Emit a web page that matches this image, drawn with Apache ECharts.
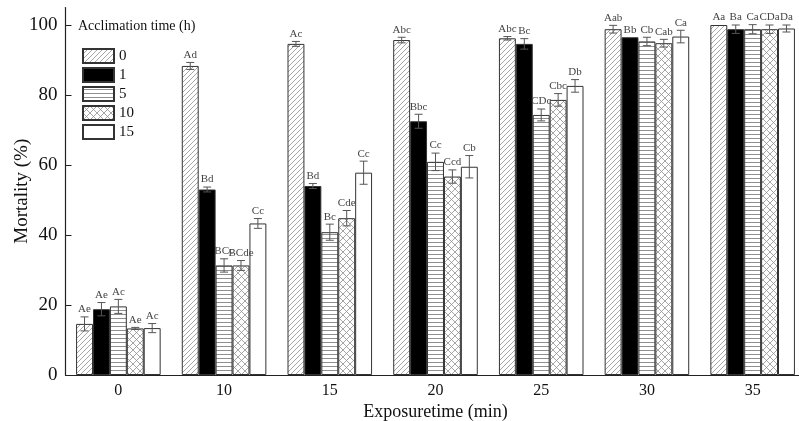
<!DOCTYPE html>
<html>
<head>
<meta charset="utf-8">
<script src="https://cdn.jsdelivr.net/npm/echarts@6/dist/echarts.min.js"></script>
<style>
html,body{margin:0;padding:0;background:#fff;}
#chart{width:799px;height:421px;}
</style>
</head>
<body>
<div id="chart"></div>
<script>
// ---- data ----
var categories = ['0', '10', '15', '20', '25', '30', '35'];
var seriesNames = ['0', '1', '5', '10', '15'];
var yTicks = [0, 20, 40, 60, 80, 100];

var mort_h0  = [14.6, 88.3, 94.6, 95.7, 96.2, 98.8, 100.0];
var err_h0   = [2.0, 1.0, 0.7, 0.8, 0.5, 1.1, 0.0];
var lab_h0   = ['Ae', 'Ad', 'Ac', 'Abc', 'Abc', 'Aab', 'Aa'];

var mort_h1  = [18.8, 53.0, 54.0, 72.5, 94.6, 96.5, 98.8];
var err_h1   = [1.9, 0.7, 0.7, 2.0, 1.5, 0.0, 1.2];
var lab_h1   = ['Ae', 'Bd', 'Bd', 'Bbc', 'Bc', 'Bb', 'Ba'];

var mort_h5  = [19.6, 31.3, 40.8, 60.9, 74.3, 95.3, 98.8];
var err_h5   = [2.0, 1.9, 2.3, 2.5, 1.7, 1.2, 1.3];
var lab_h5   = ['Ac', 'BCc', 'Bc', 'Cc', 'CDc', 'Cb', 'Ca'];

var mort_h10 = [13.3, 31.3, 44.8, 56.7, 78.6, 94.8, 98.8];
var err_h10  = [0.3, 1.4, 2.2, 1.9, 1.8, 1.1, 1.2];
var lab_h10  = ['Ae', 'BCde', 'Cde', 'Ccd', 'Cbc', 'Cab', 'CDa'];

var mort_h15 = [13.4, 43.3, 57.8, 59.5, 82.6, 96.7, 99.0];
var err_h15  = [1.3, 1.4, 3.3, 3.2, 1.8, 1.8, 1.0];
var lab_h15  = ['Ac', 'Cc', 'Cc', 'Cb', 'Db', 'Ca', 'Da'];

var values = [mort_h0, mort_h1, mort_h5, mort_h10, mort_h15];
var errors = [err_h0, err_h1, err_h5, err_h10, err_h15];
var letters = [lab_h0, lab_h1, lab_h5, lab_h10, lab_h15];

// ---- patterns ----
function makePattern(kind) {
  var s = kind === 'cross' ? 7 : (kind === 'horiz' ? 4 : 5);
  var c = document.createElement('canvas');
  c.width = s; c.height = s;
  var g = c.getContext('2d');
  g.fillStyle = '#fff';
  g.fillRect(0, 0, s, s);
  g.strokeStyle = '#8f8f8f';
  g.lineWidth = 0.8;
  g.beginPath();
  if (kind === 'diag' || kind === 'cross') {
    g.moveTo(-1, s + 1); g.lineTo(s + 1, -1);
    g.moveTo(-1, 1); g.lineTo(1, -1);
    g.moveTo(s - 1, s + 1); g.lineTo(s + 1, s - 1);
  }
  if (kind === 'cross') {
    g.moveTo(-1, -1); g.lineTo(s + 1, s + 1);
    g.moveTo(s - 1, -1); g.lineTo(s + 1, 1);
    g.moveTo(-1, s - 1); g.lineTo(1, s + 1);
  }
  g.stroke();
  if (kind === 'horiz') {
    g.fillStyle = '#8f8f8f';
    g.fillRect(0, 2, s, 1);
  }
  return { image: c, repeat: 'repeat' };
}
var fills = [makePattern('diag'), '#000000', makePattern('horiz'), makePattern('cross'), '#ffffff'];

var chart = echarts.init(document.getElementById('chart'), null, { renderer: 'canvas' });

var series = [];
for (var i = 0; i < 5; i++) {
  series.push({
    name: seriesNames[i],
    type: 'bar',
    data: values[i],
    barWidth: '16%',
    barGap: '0%',
    itemStyle: { color: fills[i], borderColor: '#333', borderWidth: 1 },
    emphasis: { disabled: true },
    z: 2
  });
}

var errData = [];
for (var s2 = 0; s2 < 5; s2++) {
  for (var j = 0; j < categories.length; j++) {
    errData.push([j, values[s2][j], errors[s2][j], s2, letters[s2][j]]);
  }
}

series.push({
  type: 'custom',
  data: errData,
  encode: { x: 0, y: 1 },
  z: 5,
  silent: true,
  renderItem: function (params, api) {
    var j = api.value(0), v = api.value(1), e = api.value(2), si = api.value(3);
    var lab = errData[params.dataIndex][4];
    var band = api.size([1, 0])[0];
    var bw = band * 0.16;
    var c = api.coord([j, v]);
    var x = c[0] + (si - 2) * bw;
    var yT = api.coord([j, v + e])[1];
    var yB = api.coord([j, v - e])[1];
    var cap = 4;
    var children = [];
    if (e > 0.05) {
      var st = { stroke: '#555', lineWidth: 1 };
      children.push({ type: 'line', shape: { x1: x, y1: yT, x2: x, y2: yB }, style: st });
      children.push({ type: 'line', shape: { x1: x - cap, y1: yT, x2: x + cap, y2: yT }, style: st });
      children.push({ type: 'line', shape: { x1: x - cap, y1: yB, x2: x + cap, y2: yB }, style: st });
    }
    children.push({
      type: 'text',
      style: {
        x: x, y: Math.min(yT, c[1]) - 2, text: lab,
        align: 'center', verticalAlign: 'bottom',
        font: '11px "Liberation Serif", serif', fill: '#444'
      }
    });
    return { type: 'group', children: children };
  }
});

chart.setOption({
  animation: false,
  backgroundColor: '#fff',
  title: {
    text: 'Acclimation time (h)',
    left: 73, top: 14,
    textStyle: { fontFamily: 'Liberation Serif', fontSize: 14, fontWeight: 'normal', color: '#111' }
  },
  legend: {
    orient: 'vertical',
    left: 77, top: 43,
    itemWidth: 31, itemHeight: 14, itemGap: 3,
    icon: 'rect',
    data: seriesNames,
    textStyle: { fontFamily: 'Liberation Serif', fontSize: 15, color: '#111' },
    selectedMode: false
  },
  grid: { left: 65.5, right: -6.5, top: 7.5, bottom: 46, containLabel: false, outerBoundsMode: 'none' },
  xAxis: {
    type: 'category',
    data: categories,
    boundaryGap: true,
    name: 'Exposuretime (min)',
    nameLocation: 'middle',
    nameGap: 28,
    nameMoveOverlap: false,
    nameTextStyle: { fontFamily: 'Liberation Serif', fontSize: 18, color: '#111' },
    axisLine: { lineStyle: { color: '#222', width: 1.2 } },
    axisTick: { inside: true, length: 4, lineStyle: { color: '#222' } },
    axisLabel: { fontFamily: 'Liberation Serif', fontSize: 16, color: '#111', margin: 8 },
    splitLine: { show: false }
  },
  yAxis: {
    type: 'value',
    min: 0, max: 105, interval: 20,
    name: 'Mortality (%)',
    nameLocation: 'middle',
    nameGap: 34,
    nameMoveOverlap: false,
    nameTextStyle: { fontFamily: 'Liberation Serif', fontSize: 19, color: '#111' },
    axisLine: { show: true, lineStyle: { color: '#222', width: 1.2 } },
    axisTick: { show: true, inside: true, length: 6, lineStyle: { color: '#222' }, customValues: yTicks },
    axisLabel: { fontFamily: 'Liberation Serif', fontSize: 19, color: '#111', margin: 8, customValues: yTicks },
    splitLine: { show: false }
  },
  series: series
});
</script>
</body>
</html>
